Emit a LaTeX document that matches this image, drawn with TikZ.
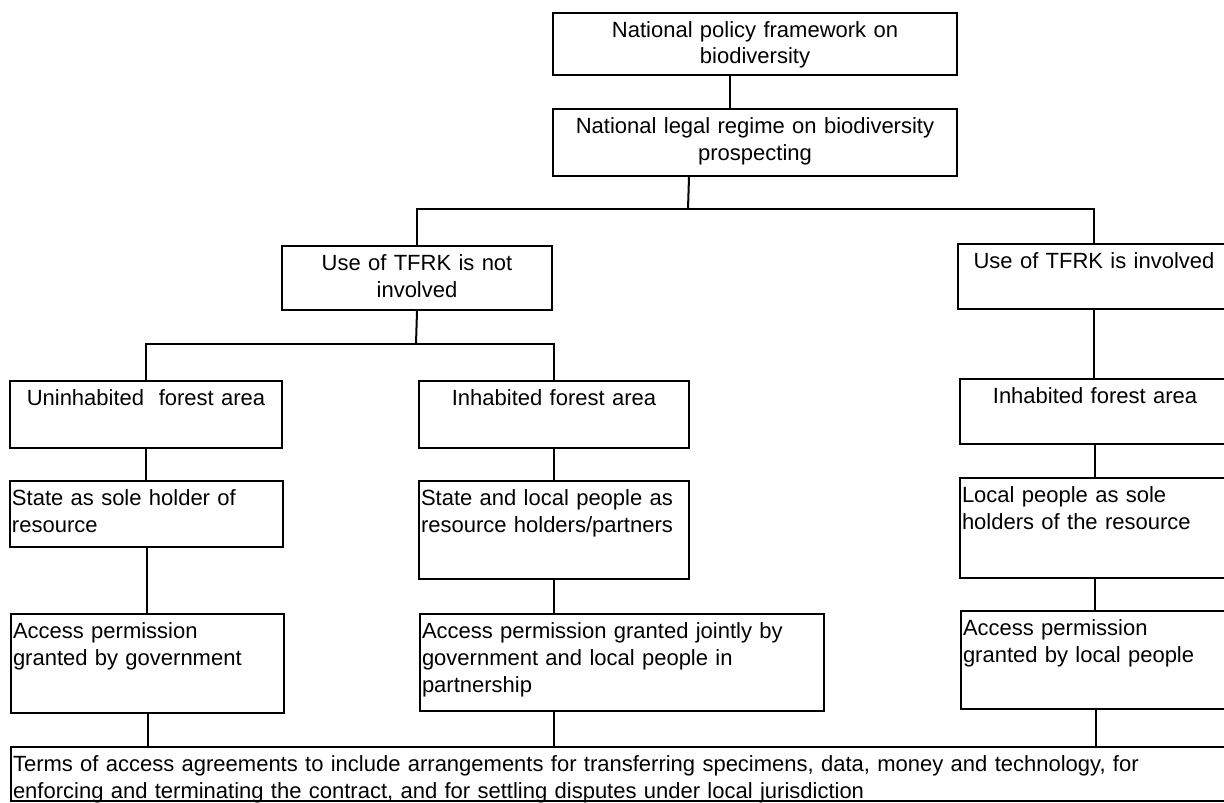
\documentclass[tikz,border=0pt]{standalone}
\usepackage{fontspec}
\setmainfont{Liberation Sans}
\usepackage{tikz}

\begin{document}
\begin{tikzpicture}[
  x=1pt, y=-1pt,
  font=\fontsize{22}{27}\selectfont,
  line width=2pt,
  b/.style n args={3}{draw, anchor=north west, inner xsep=2pt, inner ysep=0pt,
            text width=#1, text height=24pt, text depth=#2, align=#3}
]
\path[use as bounding box, fill=white] (0,0) rectangle (1224,803);

\node[b={400pt}{38pt}{center}] (pol) at (552,12) {National policy framework on\\biodiversity};
\node[b={400pt}{43pt}{center}] (leg) at (552,108) {National legal regime on biodiversity\\prospecting};
\node[b={266pt}{40pt}{center}] (notinv) at (281,245) {Use of TFRK is not\\involved};
\node[b={268pt}{41pt}{center}] (inv) at (957,243) {Use of TFRK is involved};

\node[b={268pt}{43pt}{center}] (unin) at (9,380) {Uninhabited\ \ forest area};
\node[b={266pt}{43pt}{center}] (inhm) at (418,380) {Inhabited forest area};
\node[b={266pt}{41pt}{center}] (inhr) at (959,378) {Inhabited forest area};

\node[b={269pt}{42pt}{left}] (sole) at (9,480) {State as sole holder of\\resource};
\node[b={266pt}{74pt}{left}] (part) at (418,480) {State and local people as\\resource holders/partners};
\node[b={266pt}{76pt}{left}] (locl) at (959,477) {Local people as sole\\holders of the resource};

\node[b={269pt}{75pt}{left}] (accg) at (10,613) {Access permission\\granted by government};
\node[b={400pt}{73pt}{left}] (accj) at (419,613) {Access permission granted jointly by\\government and local people in\\partnership};
\node[b={265pt}{74pt}{left}] (accl) at (960,610) {Access permission\\granted by local people};

\node[b={1215pt}{30pt}{left}] (terms) at (10,746) {Terms of access agreements to include arrangements for transferring specimens, data, money and technology, for\\enforcing and terminating the contract, and for settling disputes under local jurisdiction};

\coordinate (s1) at (688,209);
\coordinate (s2) at (416,344);

\draw ([xshift=-25pt]pol.south) -- ([xshift=-25pt]leg.north);
\draw ([xshift=-66pt]leg.south) -- (s1);
\draw (notinv.north) |- (s1) -| (inv.north);
\draw (notinv.south) -- (s2);
\draw (unin.north) |- (s2) -| (inhm.north);
\draw (inv.south) -- (inv.south |- inhr.north);

\draw (unin.south) -- (unin.south |- sole.north);
\draw (sole.south) -- (sole.south |- accg.north);
\draw (accg.south) -- (accg.south |- terms.north);

\draw (inhm.south) -- (inhm.south |- part.north);
\draw (part.south) -- (part.south |- accj.north);
\draw (accj.south -| part.south) -- (part.south |- terms.north);

\draw (inhr.south) -- (inhr.south |- locl.north);
\draw (locl.south) -- (locl.south |- accl.north);
\draw (accl.south) -- (accl.south |- terms.north);
\end{tikzpicture}
\end{document}
